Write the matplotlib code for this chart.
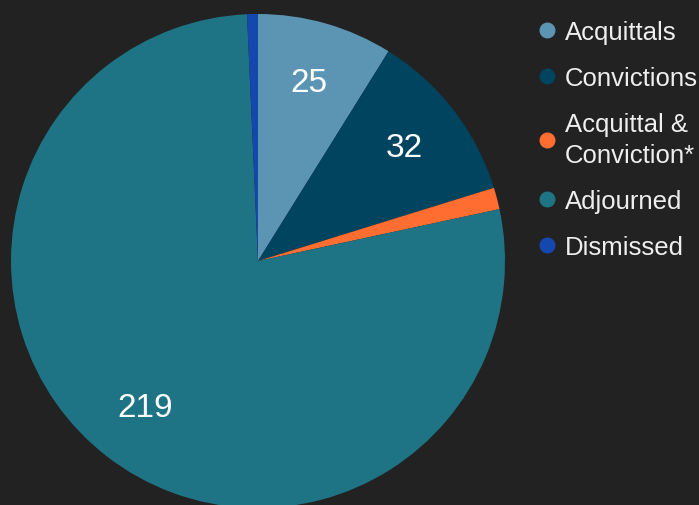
import matplotlib.pyplot as plt
from matplotlib.lines import Line2D

plt.rcParams['font.family'] = ['Liberation Sans', 'DejaVu Sans']

labels = ['Acquittals', 'Convictions', 'Acquittal &\nConviction*', 'Adjourned', 'Dismissed']
values = [25, 32, 4, 219, 2]
colors = ['#5b95b3', '#00445f', '#ff6d31', '#1e7484', '#1548ae']
shown = [True, True, False, True, False]

bg = '#222222'
fig = plt.figure(figsize=(6.99, 5.06), dpi=100, facecolor=bg)
ax = fig.add_axes([11 / 699, -3 / 506, 494 / 699, 494 / 506])
ax.set_facecolor(bg)

wedges, texts, autotexts = ax.pie(values, colors=colors, startangle=90, counterclock=False,
                                  radius=1, autopct='%d', pctdistance=0.75,
                                  wedgeprops=dict(linewidth=0),
                                  textprops=dict(color='white', fontsize=24))
for t, v, s in zip(autotexts, values, shown):
    t.set_text(str(v) if s else '')
for w in wedges:
    w.set_clip_on(False)
ax.set_xlim(-1, 1)
ax.set_ylim(-1, 1)
ax.set_aspect('equal')
ax.axis('off')

handles = [Line2D([], [], marker='o', linestyle='', markersize=10.5, color=c) for c in colors]
leg = fig.legend(handles, labels, loc='upper left', bbox_to_anchor=(533 / 699, 1 - 21 / 506),
                 frameon=False, fontsize=18.5, labelcolor='#eeeeee', handletextpad=0.15,
                 labelspacing=0.86, handlelength=1.1, borderaxespad=0, borderpad=0)
for t in leg.get_texts():
    t.set_linespacing(1.35)

fig.savefig('out.png', dpi=100, facecolor=bg)
